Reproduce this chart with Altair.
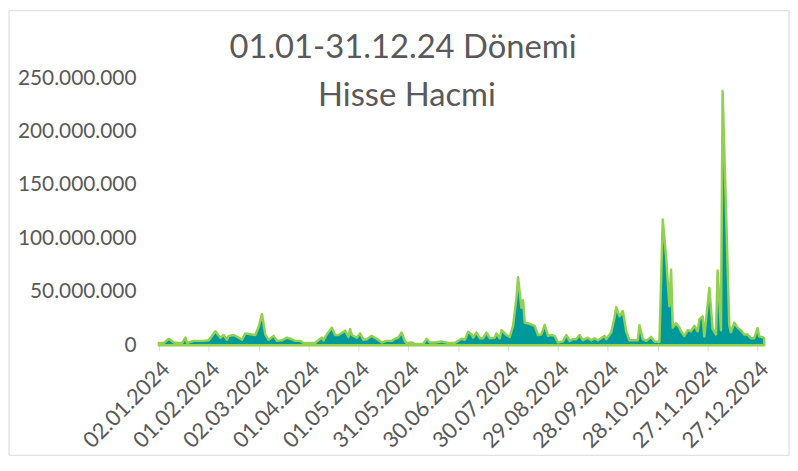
import altair as alt
import pandas as pd

# ---- data (volume in millions of shares) ----
dates = [
    "2024-01-02", "2024-01-05", "2024-01-08", "2024-01-11", "2024-01-14", "2024-01-16",
    "2024-01-18", "2024-01-19", "2024-01-23", "2024-01-29", "2024-02-01", "2024-02-05",
    "2024-02-08", "2024-02-10", "2024-02-12", "2024-02-13", "2024-02-16", "2024-02-19",
    "2024-02-21", "2024-02-23", "2024-02-27", "2024-02-29", "2024-03-02", "2024-03-04",
    "2024-03-06", "2024-03-08", "2024-03-11", "2024-03-13", "2024-03-16", "2024-03-19",
    "2024-03-21", "2024-03-24", "2024-03-27", "2024-03-29", "2024-04-02", "2024-04-05",
    "2024-04-06", "2024-04-09", "2024-04-10", "2024-04-12", "2024-04-15", "2024-04-17",
    "2024-04-19", "2024-04-22", "2024-04-23", "2024-04-25", "2024-04-26", "2024-04-27",
    "2024-04-30", "2024-05-02", "2024-05-04", "2024-05-06", "2024-05-09", "2024-05-12",
    "2024-05-15", "2024-05-18", "2024-05-21", "2024-05-23", "2024-05-25", "2024-05-27",
    "2024-05-29", "2024-05-30", "2024-06-02", "2024-06-04", "2024-06-09", "2024-06-11",
    "2024-06-13", "2024-06-16", "2024-06-20", "2024-06-24", "2024-06-28", "2024-07-02",
    "2024-07-04", "2024-07-06", "2024-07-08", "2024-07-09", "2024-07-11", "2024-07-13",
    "2024-07-15", "2024-07-17", "2024-07-19", "2024-07-22", "2024-07-23", "2024-07-25",
    "2024-07-26", "2024-07-29", "2024-07-31", "2024-08-02", "2024-08-04", "2024-08-05",
    "2024-08-07", "2024-08-08", "2024-08-09", "2024-08-12", "2024-08-15", "2024-08-17",
    "2024-08-19", "2024-08-21", "2024-08-23", "2024-08-25", "2024-08-27", "2024-08-29",
    "2024-09-01", "2024-09-03", "2024-09-05", "2024-09-07", "2024-09-09", "2024-09-11",
    "2024-09-13", "2024-09-16", "2024-09-18", "2024-09-20", "2024-09-22", "2024-09-24",
    "2024-09-26", "2024-09-27", "2024-09-30", "2024-10-02", "2024-10-03", "2024-10-05",
    "2024-10-06", "2024-10-07", "2024-10-09", "2024-10-11", "2024-10-15", "2024-10-16",
    "2024-10-17", "2024-10-19", "2024-10-21", "2024-10-24", "2024-10-26", "2024-10-29",
    "2024-10-31", "2024-11-02", "2024-11-04", "2024-11-05", "2024-11-06", "2024-11-08",
    "2024-11-10", "2024-11-11", "2024-11-13", "2024-11-15", "2024-11-17", "2024-11-19",
    "2024-11-21", "2024-11-22", "2024-11-24", "2024-11-25", "2024-11-28", "2024-11-30",
    "2024-12-02", "2024-12-03", "2024-12-05", "2024-12-06", "2024-12-10", "2024-12-11",
    "2024-12-13", "2024-12-15", "2024-12-17", "2024-12-19", "2024-12-21", "2024-12-23",
    "2024-12-25", "2024-12-27", "2024-12-28", "2024-12-30", "2024-12-31",
]
volume_m = [
    2, 2, 6, 2.5, 2, 2,
    7, 2, 4, 4, 4.5, 13,
    7, 9.5, 5, 8.5, 9.5, 7,
    5, 11, 10, 9.5, 17, 29,
    10, 5, 8.7, 4, 4.5, 7,
    6, 4, 4, 2, 2, 2,
    3.5, 7, 4.5, 10, 16.4, 9.5,
    9.5, 12.4, 13.6, 7.7, 15, 9.5,
    7, 11, 5, 5.5, 8.7, 6,
    2.5, 4, 4, 6, 7, 11.8,
    3.5, 2, 2.5, 1, 1, 6,
    2.5, 2.5, 3.5, 2, 2, 6,
    5, 12.5, 10, 7, 11.8, 6.5,
    6.5, 11.8, 6.5, 7, 11, 6.5,
    14, 9.5, 7.7, 18, 44, 63.5,
    35, 42, 21, 20, 18, 9.5,
    10, 19, 8.7, 9.5, 8.7, 2.5,
    3.5, 9.5, 4, 5.6, 5.6, 9.5,
    4.6, 7, 4.6, 6.5, 4.6, 6.5,
    8.7, 5.6, 11.8, 25.7, 35.6, 27,
    29.4, 32, 13, 4.6, 4.6, 4.6,
    18.6, 5.6, 4, 7.7, 3.5, 3,
    117.7, 83, 36.5, 70.6, 16.4, 20.4,
    16.4, 13, 8.6, 14, 13, 18,
    13, 24, 27, 8, 53.6, 15,
    10, 70, 14, 238, 18.6, 12,
    21, 16.4, 14, 10, 10, 6.5,
    6.5, 16, 8, 7.5, 6.5,
]
x_tick_dates = [(1, 2), (2, 1), (3, 2), (4, 1), (5, 1), (5, 31), (6, 30),
                (7, 30), (8, 29), (9, 28), (10, 28), (11, 27), (12, 27)]
y_ticks = [0, 50000000, 100000000, 150000000, 200000000, 250000000]
title_lines = ["01.01-31.12.24 Dönemi", "Hisse Hacmi"]

df = pd.DataFrame({"date": dates, "volume": [v * 1_000_000 for v in volume_m]})

W, H = 610, 269
FONT = "Lato"
GREY = "#595959"

x_values = [alt.DateTime(year=2024, month=m, date=d, utc=True) for m, d in x_tick_dates]

area = alt.Chart(df).mark_area(
    fill="#00999A", stroke="#92D050", strokeWidth=2.5, strokeJoin="round", interpolate="linear"
).encode(
    x=alt.X(
        "date:T",
        scale=alt.Scale(
            type="utc",
            domain=[alt.DateTime(year=2024, month=1, date=2, utc=True),
                    alt.DateTime(year=2024, month=12, date=31, utc=True)],
        ),
        axis=alt.Axis(
            values=x_values, format="%d.%m.%Y", labelAngle=-45, grid=False,
            domainColor="#D9D9D9", tickColor="#D9D9D9", tickSize=6,
            labelColor=GREY, labelFont=FONT, labelFontSize=22, labelPadding=7,
            labelOverlap=False, labelFlush=False, title=None,
        ),
    ),
    y=alt.Y(
        "volume:Q",
        scale=alt.Scale(domain=[0, 250000000], nice=False),
        axis=alt.Axis(
            values=y_ticks, grid=False, domain=False, ticks=False,
            labelExpr="replace(format(datum.value, ',.0f'), /,/g, '.')",
            labelColor=GREY, labelFont=FONT, labelFontSize=21, labelPadding=23,
            title=None,
        ),
    ),
)

border = alt.Chart(pd.DataFrame({"k": [0]})).mark_rect(
    fillOpacity=0, stroke="#D9D9D9", strokeWidth=1
).encode(
    x=alt.value(-151), x2=alt.value(W + 25), y=alt.value(-68), y2=alt.value(H + 111)
)

t1 = alt.Chart(pd.DataFrame({"t": [title_lines[0]]})).mark_text(
    font=FONT, fontSize=33, color=GREY, align="center", baseline="middle"
).encode(x=alt.value(246), y=alt.value(-30), text="t:N")

t2 = alt.Chart(pd.DataFrame({"t": [title_lines[1]]})).mark_text(
    font=FONT, fontSize=33, color=GREY, align="center", baseline="middle"
).encode(x=alt.value(250), y=alt.value(18), text="t:N")

chart = alt.layer(border, area, t1, t2).properties(
    width=W, height=H,
    autosize=alt.AutoSizeParams(type="none"),
    padding={"left": 152, "top": 69, "right": 26, "bottom": 112},
).configure_view(strokeWidth=0)

chart.save("out.html", embed_options={"renderer": "svg", "actions": False})
